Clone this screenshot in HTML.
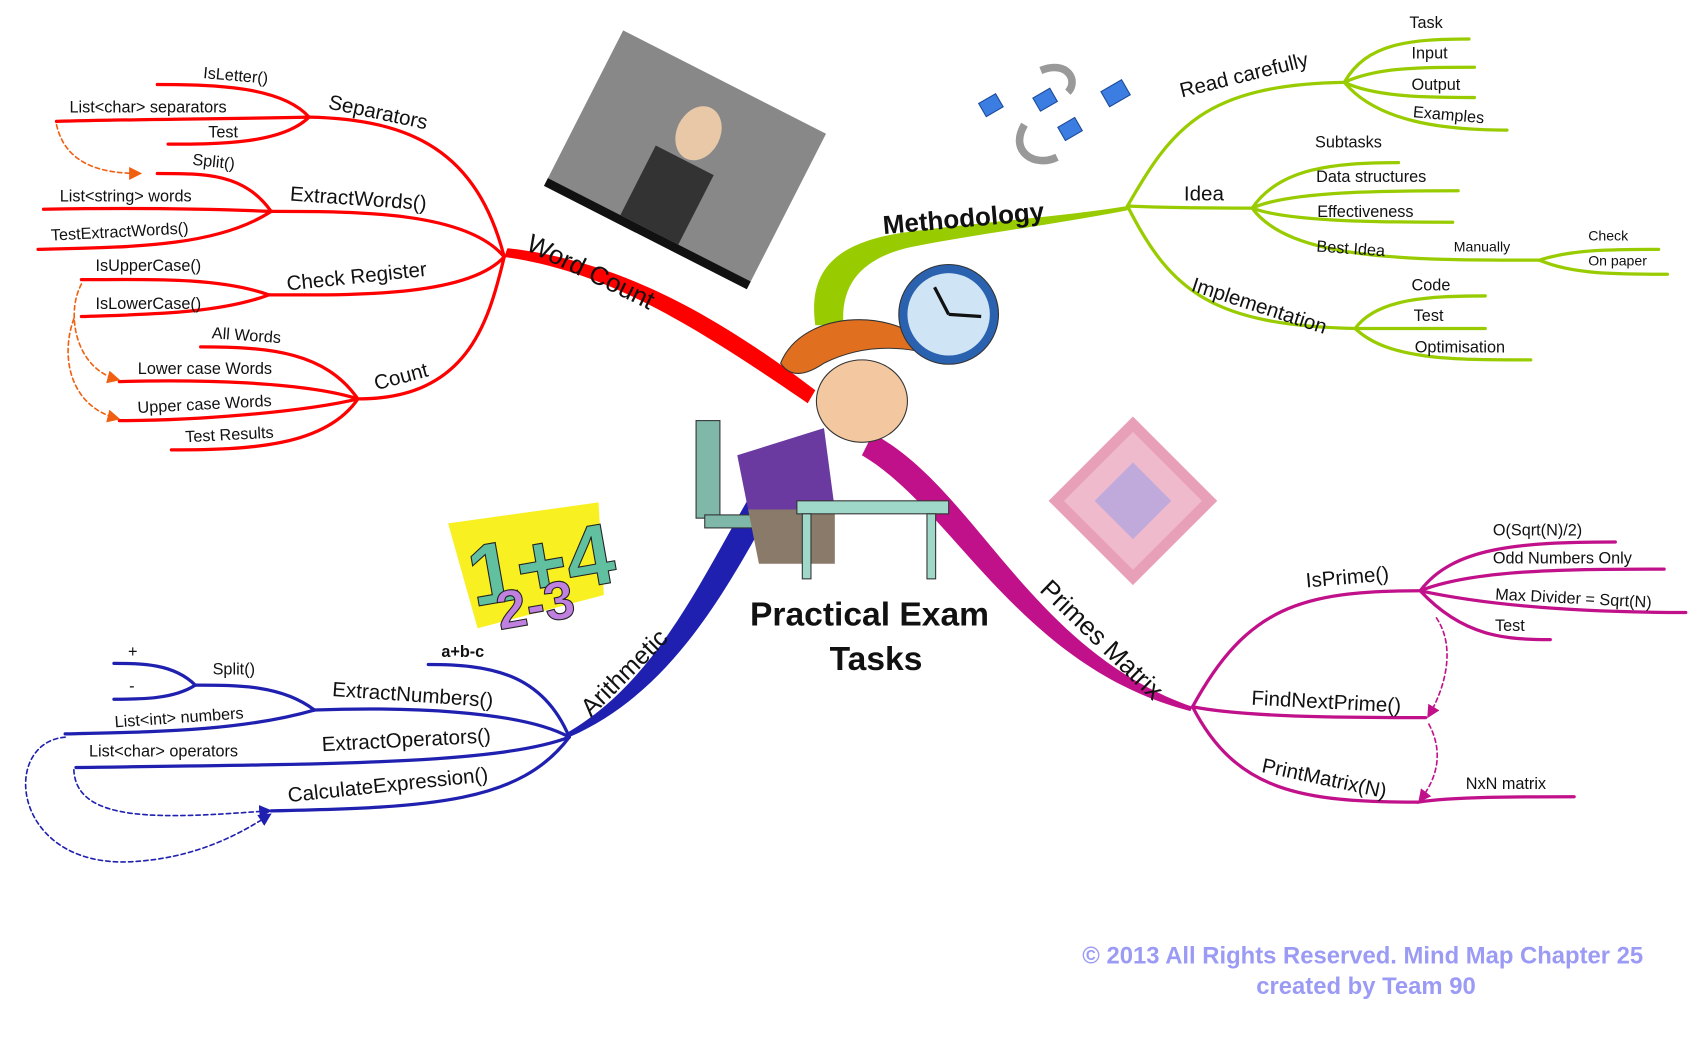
<!DOCTYPE html>
<html><head><meta charset="utf-8"><style>
html,body{margin:0;padding:0;background:#fff;width:1700px;height:1058px;overflow:hidden}
svg{display:block}
text{font-family:"Liberation Sans",sans-serif;font-size:16px;fill:#111}
.s{font-size:15px}
.t{font-size:19px}
</style></head><body>
<svg width="1700" height="1058" viewBox="0 0 1568 976" xmlns="http://www.w3.org/2000/svg">
<defs>
<marker id="ao" markerWidth="8" markerHeight="8" refX="6" refY="4" orient="auto"><path d="M0,0 L8,4 L0,8z" fill="#f06010"/></marker>
<marker id="ab" markerWidth="8" markerHeight="8" refX="6" refY="4" orient="auto"><path d="M0,0 L8,4 L0,8z" fill="#2020b0"/></marker>
<marker id="am" markerWidth="8" markerHeight="8" refX="6" refY="4" orient="auto"><path d="M0,0 L8,4 L0,8z" fill="#c0108a"/></marker>
</defs>

<!-- photo -->
<g transform="rotate(27 632 147)"><rect x="527" y="67" width="210" height="160" fill="#888"/><rect x="527" y="220" width="210" height="8" fill="#111"/><ellipse cx="632" cy="120" rx="20" ry="26" fill="#e9c8a8"/><rect x="602" y="148" width="60" height="72" fill="#333"/></g>

<!-- MAIN BRANCHES -->
<path d="M745,372 C640,300 560,250 465,237 L468,229 C570,240 660,290 752,360Z" fill="#ff0000"/>
<path d="M752,300 C745,250 770,225 830,215 C900,205 980,200 1040,190 L1040,194 C980,206 900,216 840,228 C795,238 775,262 778,300Z" fill="#99cc00"/>
<path d="M805,400 C900,450 950,600 1100,652 L1098,656 C940,615 880,470 795,420Z" fill="#c0108a"/>
<path d="M740,420 C690,500 640,630 525,680 L523,676 C620,620 660,500 720,412Z" fill="#2020b0"/>

<g fill="none" stroke-linecap="round">
<g stroke="#ff0000" stroke-width="3">
<path d="M465,237 C440,140 380,110 285,108"/>
<path d="M465,237 C430,195 330,195 250,195"/>
<path d="M465,237 C430,275 320,272 248,272"/>
<path d="M465,237 C450,300 430,368 330,368"/>
<path d="M285,108 C260,80 200,78 145,78"/>
<path d="M285,108 C200,110 120,110 52,112"/>
<path d="M285,108 C260,133 200,133 155,133"/>
<path d="M250,195 C225,160 190,160 145,160"/>
<path d="M250,195 C180,192 100,192 40,193"/>
<path d="M250,195 C200,228 120,228 35,230"/>
<path d="M248,272 C200,255 130,258 75,258"/>
<path d="M248,272 C200,290 130,290 75,292"/>
<path d="M330,368 C300,325 250,320 185,320"/>
<path d="M330,368 C280,352 180,350 110,352"/>
<path d="M330,368 C280,380 180,388 110,388"/>
<path d="M330,368 C300,412 230,415 158,415"/>
</g>
<g stroke="#f06010" stroke-width="1.5" stroke-dasharray="4,3">
<path d="M52,115 C60,150 90,160 128,160" marker-end="url(#ao)"/>
<path d="M75,262 C60,290 70,340 108,350" marker-end="url(#ao)"/>
<path d="M68,294 C55,330 65,375 108,386" marker-end="url(#ao)"/>
</g>
<g stroke="#99cc00" stroke-width="3">
<path d="M1040,190 C1080,120 1110,78 1240,76"/>
<path d="M1040,190 C1080,192 1120,192 1155,192"/>
<path d="M1040,190 C1080,270 1120,300 1250,303"/>
<path d="M1240,76 C1260,40 1300,36 1355,36"/>
<path d="M1240,76 C1270,62 1310,62 1360,62"/>
<path d="M1240,76 C1270,90 1320,90 1360,90"/>
<path d="M1240,76 C1270,112 1330,120 1390,120"/>
<path d="M1155,192 C1180,155 1230,150 1290,150"/>
<path d="M1155,192 C1190,176 1280,176 1345,176"/>
<path d="M1155,192 C1190,205 1280,205 1340,205"/>
<path d="M1155,192 C1190,240 1300,240 1420,240"/>
<path d="M1420,240 C1450,230 1490,230 1530,230"/>
<path d="M1420,240 C1450,253 1490,253 1538,253"/>
<path d="M1250,303 C1270,275 1320,273 1370,273"/>
<path d="M1250,303 C1280,303 1320,303 1370,303"/>
<path d="M1250,303 C1280,332 1340,332 1412,332"/>
</g>
<g stroke="#c0108a" stroke-width="3">
<path d="M1100,652 C1150,560 1200,545 1310,545"/>
<path d="M1100,652 C1150,662 1250,662 1315,662"/>
<path d="M1100,652 C1140,730 1200,740 1308,740"/>
<path d="M1310,545 C1340,505 1400,500 1490,500"/>
<path d="M1310,545 C1360,525 1450,525 1535,525"/>
<path d="M1310,545 C1380,560 1470,565 1555,565"/>
<path d="M1310,545 C1350,588 1390,590 1430,590"/>
<path d="M1308,740 C1340,735 1400,735 1452,735"/>
</g>
<g stroke="#c0108a" stroke-width="1.5" stroke-dasharray="4,3">
<path d="M1325,570 C1345,600 1330,640 1318,660" marker-end="url(#am)"/>
<path d="M1318,668 C1335,700 1320,725 1310,738" marker-end="url(#am)"/>
</g>
<g stroke="#2020b0" stroke-width="3">
<path d="M525,680 C480,655 370,652 290,655"/>
<path d="M525,680 C500,620 450,613 395,613"/>
<path d="M525,680 C460,705 300,705 70,708"/>
<path d="M525,680 C480,740 400,745 250,748"/>
<path d="M290,655 C260,632 220,632 180,632"/>
<path d="M180,632 C160,612 130,612 105,612"/>
<path d="M180,632 C160,645 130,645 105,645"/>
<path d="M290,655 C220,675 140,675 60,677"/>
</g>
<g stroke="#2020b0" stroke-width="1.5" stroke-dasharray="4,3">
<path d="M68,710 C70,760 150,755 248,748" marker-end="url(#ab)"/>
<path d="M60,680 C0,685 10,800 120,795 C180,792 220,770 248,752" marker-end="url(#ab)"/>
</g>
</g>

<!-- cartoon kid -->
<rect x="642" y="388" width="22" height="90" fill="#7fb7a8" stroke="#333"/>
<rect x="650" y="475" width="90" height="12" fill="#7fb7a8" stroke="#333"/>
<path d="M680,420 L760,395 L770,470 L690,470Z" fill="#6a3aa0"/>
<path d="M690,470 L770,470 L770,520 L700,520Z" fill="#8a7a6a"/>
<rect x="735" y="462" width="140" height="12" fill="#9fd8c8" stroke="#333"/>
<rect x="740" y="474" width="8" height="60" fill="#9fd8c8" stroke="#333"/><rect x="855" y="474" width="8" height="60" fill="#9fd8c8" stroke="#333"/>
<ellipse cx="795" cy="370" rx="42" ry="38" fill="#f3c8a0" stroke="#333"/>
<path d="M720,335 C740,285 830,280 870,330 C840,320 800,315 760,335 C745,345 730,350 720,335Z" fill="#e07020" stroke="#333"/>
<circle cx="875" cy="290" r="46" fill="#2a62b0" stroke="#333"/><circle cx="875" cy="290" r="38" fill="#cfe4f4"/>
<path d="M875,290 L862,265 M875,290 L905,292" stroke="#111" stroke-width="3"/>
<g fill="#3b7de0" stroke="#1c4b9a"><rect x="905" y="90" width="18" height="14" transform="rotate(-30 914 97)"/><rect x="955" y="85" width="18" height="14" transform="rotate(-30 964 92)"/><rect x="978" y="112" width="18" height="14" transform="rotate(-30 987 119)"/><rect x="1018" y="78" width="22" height="16" transform="rotate(-30 1029 86)"/></g>
<path d="M945,115 C930,140 955,155 975,145" stroke="#999" stroke-width="7" fill="none"/>
<path d="M960,65 C985,55 995,75 985,85" stroke="#999" stroke-width="7" fill="none"/>
<g transform="rotate(45 1045 462)"><rect x="990" y="407" width="110" height="110" fill="#e8a0b8"/><rect x="1000" y="417" width="90" height="90" fill="#f0c0d0" opacity="0.8"/><rect x="1020" y="437" width="50" height="50" fill="#a0a0e8" opacity="0.6"/></g>
<g transform="rotate(-10 490 515)"><path d="M420,470 L560,475 L550,560 L430,570Z" fill="#f8f020"/><text x="430" y="550" style="font-size:80px;font-weight:bold;fill:#60c0a0;stroke:#222">1+4</text><text x="450" y="575" style="font-size:50px;font-weight:bold;fill:#c080e0;stroke:#222">2-3</text></g>

<!-- TEXT -->
<text x="802" y="577" text-anchor="middle" style="font-size:31px;font-weight:bold">Practical Exam</text>
<text x="808" y="618" text-anchor="middle" style="font-size:31px;font-weight:bold">Tasks</text>

<text transform="translate(484,230) rotate(26)" style="font-size:24px">Word Count</text>
<text transform="translate(815,216) rotate(-5)" style="font-size:24px;font-weight:bold">Methodology</text>
<text transform="translate(958,545) rotate(44)" style="font-size:24px">Primes Matrix</text>
<text transform="translate(545,662) rotate(-45)" style="font-size:23px">Arithmetic</text>

<text class="t" transform="translate(302,100) rotate(12)">Separators</text>
<text class="t" transform="translate(267,185) rotate(4)">ExtractWords()</text>
<text class="t" transform="translate(265,268) rotate(-6)">Check Register</text>
<text class="t" transform="translate(347,360) rotate(-15)">Count</text>
<text class="s" transform="translate(187,72) rotate(5)">IsLetter()</text>
<text class="s" x="64" y="104">List&lt;char&gt; separators</text>
<text class="s" x="192" y="127">Test</text>
<text class="s" transform="translate(177,152) rotate(6)">Split()</text>
<text class="s" x="55" y="186">List&lt;string&gt; words</text>
<text class="s" transform="translate(47,222) rotate(-3)">TestExtractWords()</text>
<text class="s" x="88" y="250">IsUpperCase()</text>
<text class="s" x="88" y="285">IsLowerCase()</text>
<text class="s" transform="translate(195,312) rotate(4)">All Words</text>
<text class="s" x="127" y="345">Lower case Words</text>
<text class="s" transform="translate(127,381) rotate(-3)">Upper case Words</text>
<text class="s" transform="translate(171,408) rotate(-3)">Test Results</text>

<text class="t" transform="translate(1090,90) rotate(-14)">Read carefully</text>
<text class="t" x="1092" y="185">Idea</text>
<text class="t" transform="translate(1098,268) rotate(18)">Implementation</text>
<text class="s" x="1300" y="26">Task</text>
<text class="s" x="1302" y="54">Input</text>
<text class="s" x="1302" y="83">Output</text>
<text class="s" transform="translate(1303,108) rotate(5)">Examples</text>
<text class="s" x="1213" y="136">Subtasks</text>
<text class="s" x="1214" y="168">Data structures</text>
<text class="s" x="1215" y="200">Effectiveness</text>
<text class="s" transform="translate(1214,232) rotate(4)">Best Idea</text>
<text x="1341" y="232" style="font-size:13px">Manually</text>
<text x="1465" y="222" style="font-size:13px">Check</text>
<text x="1465" y="245" style="font-size:13px">On paper</text>
<text class="s" x="1302" y="268">Code</text>
<text class="s" x="1304" y="296">Test</text>
<text class="s" x="1305" y="325">Optimisation</text>

<text class="t" transform="translate(1205,542) rotate(-5)">IsPrime()</text>
<text class="t" transform="translate(1154,650) rotate(3)">FindNextPrime()</text>
<text class="t" transform="translate(1163,712) rotate(12)">PrintMatrix(N)</text>
<text class="s" x="1377" y="494">O(Sqrt(N)/2)</text>
<text class="s" x="1377" y="520">Odd Numbers Only</text>
<text class="s" transform="translate(1379,553) rotate(3)">Max Divider = Sqrt(N)</text>
<text class="s" x="1379" y="582">Test</text>
<text class="s" x="1352" y="728">NxN matrix</text>

<text class="s" x="407" y="606" style="font-weight:bold">a+b-c</text>
<text class="t" transform="translate(306,642) rotate(4)">ExtractNumbers()</text>
<text class="t" transform="translate(297,693) rotate(-3)">ExtractOperators()</text>
<text class="t" transform="translate(266,740) rotate(-6)">CalculateExpression()</text>
<text class="s" x="196" y="622">Split()</text>
<text class="s" x="118" y="606">+</text>
<text class="s" x="119" y="638">-</text>
<text class="s" transform="translate(106,671) rotate(-4)">List&lt;int&gt; numbers</text>
<text class="s" x="82" y="698">List&lt;char&gt; operators</text>

<text x="1257" y="889" text-anchor="middle" style="font-size:22px;font-weight:bold;fill:#9b9bf5">© 2013 All Rights Reserved. Mind Map Chapter 25</text>
<text x="1260" y="917" text-anchor="middle" style="font-size:22px;font-weight:bold;fill:#9b9bf5">created by Team 90</text>
</svg>
</body></html>
